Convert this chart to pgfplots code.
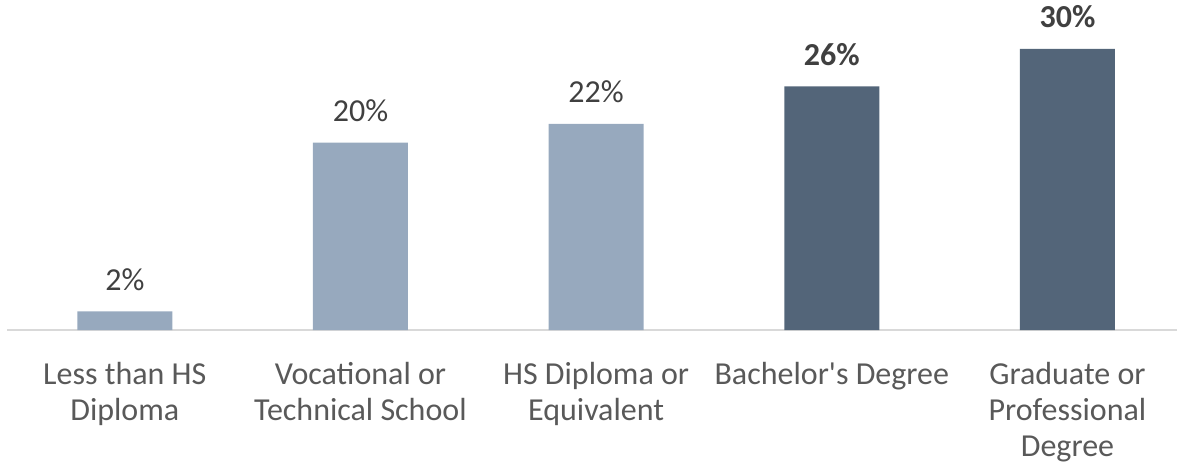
\documentclass[border=0pt]{standalone}
\usepackage{pgfplots}
\pgfplotsset{compat=1.18}
\usepackage{fontspec}
\setmainfont{Carlito}
\definecolor{barLight}{HTML}{97A9BE}
\definecolor{barDark}{HTML}{536579}
\definecolor{tickGray}{HTML}{595959}
\definecolor{labGray}{HTML}{404040}
\definecolor{axGray}{HTML}{D9D9D9}
\begin{document}
\begin{tikzpicture}
\path[use as bounding box] (0,0) rectangle (588.5pt,234pt);
\begin{axis}[
    at={(3.5pt,69pt)}, anchor=south west,
    scale only axis,
    width=585pt, height=165pt,
    ybar, bar width=47.5pt, bar shift=0pt,
    xmin=-0.5, xmax=4.465,
    ymin=0, ymax=35.22,
    axis x line=bottom, axis y line=none,
    axis line style={axGray, line width=0.9pt, -},
    xtick={0,1,2,3,4}, major tick length=0pt,
    xticklabels={Less than HS\\Diploma, Vocational or\\Technical School,
                 HS Diploma or\\Equivalent, Bachelor\textquotesingle s Degree,
                 Graduate or\\Professional\\Degree},
    xticklabel style={font=\fontsize{16}{18}\selectfont, text=tickGray,
                      align=center, anchor=north, inner sep=0pt, yshift=-15.8pt},
    /pgf/number format/assume math mode=true,
    nodes near coords={\pgfmathprintnumber{\pgfplotspointmeta}\%},
    nodes near coords style={font=\fontsize{16}{18}\selectfont, text=labGray,
                             anchor=base, inner sep=0pt, yshift=10.5pt},
    clip=false,
]
\addplot[fill=barLight, draw=none] coordinates {(0,2) (1,20) (2,22)};
\addplot[fill=barDark, draw=none,
    nodes near coords style={font=\fontsize{16}{18}\selectfont\bfseries}]
    coordinates {(3,26) (4,30)};
\end{axis}
\end{tikzpicture}
\end{document}
